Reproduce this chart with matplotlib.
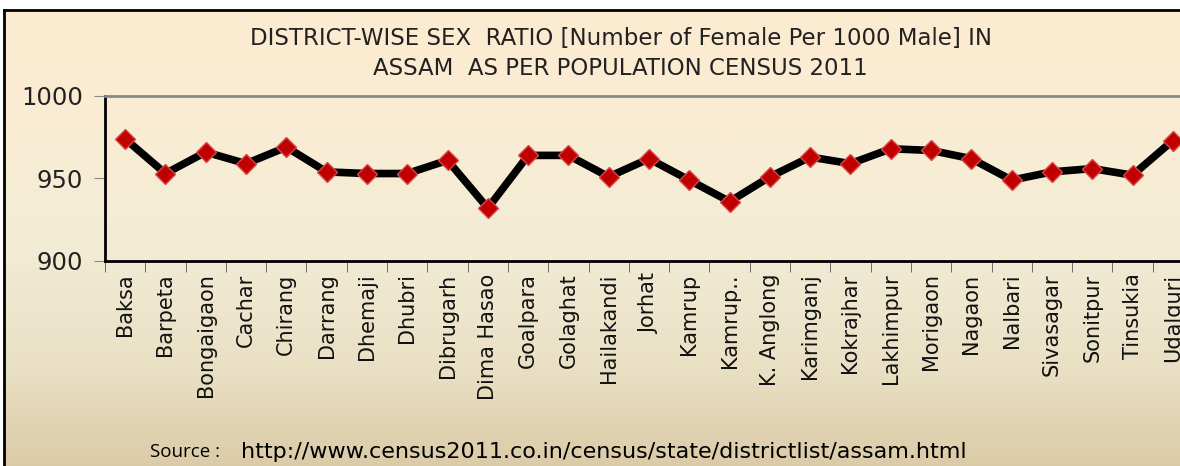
import numpy as np
import matplotlib
matplotlib.use('Agg')
import matplotlib.pyplot as plt
from matplotlib.colors import LinearSegmentedColormap

districts = ['Baksa', 'Barpeta', 'Bongaigaon', 'Cachar', 'Chirang', 'Darrang', 'Dhemaji',
             'Dhubri', 'Dibrugarh', 'Dima Hasao', 'Goalpara', 'Golaghat', 'Hailakandi',
             'Jorhat', 'Kamrup', 'Kamrup..', 'K. Anglong', 'Karimganj', 'Kokrajhar',
             'Lakhimpur', 'Morigaon', 'Nagaon', 'Nalbari', 'Sivasagar', 'Sonitpur',
             'Tinsukia', 'Udalguri']
sex_ratio = [974, 953, 966, 959, 969, 954, 953, 953, 961, 932, 964, 964, 951, 962,
             949, 936, 951, 963, 959, 968, 967, 962, 949, 954, 956, 952, 973]
yticks = [900, 950, 1000]

fig = plt.figure(figsize=(11.8, 4.66), dpi=100)
fig.patch.set_facecolor('white')

# gradient background + border
bg = fig.add_axes([0.003, -0.05, 1.1, 1.028], zorder=0)
cmap = LinearSegmentedColormap.from_list('bg', ['#FCEBD0', '#FAECD4', '#F2ECD6', '#E9E0C4', '#D8C6A1'])
bg.imshow(np.linspace(0, 1, 256).reshape(-1, 1), aspect='auto', cmap=cmap,
          extent=[0, 1, 0, 1])
bg.set_xticks([])
bg.set_yticks([])
for s in bg.spines.values():
    s.set_color('black')
    s.set_linewidth(2)

ax = fig.add_axes([0.089, 0.440, 0.922, 0.354], zorder=1)
ax.patch.set_alpha(0)
x = np.arange(len(districts))
ax.plot(x, sex_ratio, color='black', lw=5.5, zorder=2)
ax.plot(x, sex_ratio, ls='none', marker='D', ms=10, mfc='#C00000', mec='#D84848', mew=1, zorder=3)

ax.set_xlim(-0.5, len(districts) - 0.5)
ax.set_ylim(900, 1000)
ax.set_yticks(yticks)
ax.set_yticklabels([str(v) for v in yticks], fontsize=17.5, color='#222222')
ax.set_xticks(x)
ax.set_xticklabels(districts, rotation=90, fontsize=15, color='#111111')
ax.tick_params(axis='x', which='major', length=0, pad=9)
ax.set_xticks(np.arange(-0.5, len(districts), 1), minor=True)
ax.tick_params(axis='x', which='minor', length=8, color='#555555', direction='out')
ax.tick_params(axis='y', length=8, color='#888888', direction='out', pad=8)

ax.spines['left'].set_color('black')
ax.spines['left'].set_linewidth(2)
ax.spines['bottom'].set_color('black')
ax.spines['bottom'].set_linewidth(2)
ax.spines['top'].set_color('#888888')
ax.spines['top'].set_linewidth(2)
ax.spines['right'].set_visible(False)

fig.text(0.526, 0.918, 'DISTRICT-WISE SEX  RATIO [Number of Female Per 1000 Male] IN',
         ha='center', va='center', fontsize=16.5, color='#222222')
fig.text(0.526, 0.853, 'ASSAM  AS PER POPULATION CENSUS 2011',
         ha='center', va='center', fontsize=16.5, color='#222222')

fig.text(0.127, 0.030, 'Source : ', ha='left', va='center', fontsize=13.5,
         family='Open Sans', color='black')
fig.text(0.204, 0.030, 'http://www.census2011.co.in/census/state/districtlist/assam.html',
         ha='left', va='center', fontsize=16, color='black')

fig.savefig('out.png', dpi=100, facecolor=fig.get_facecolor())
